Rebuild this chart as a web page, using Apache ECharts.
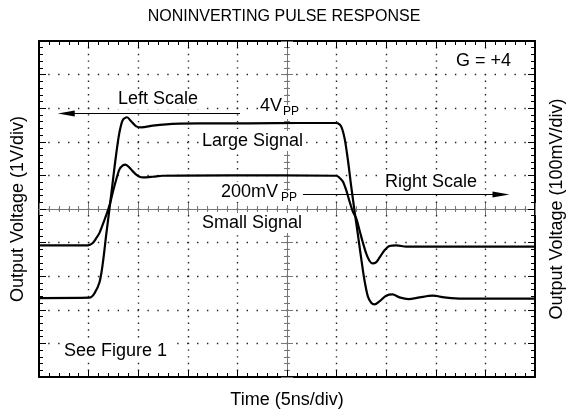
<!DOCTYPE html>
<html>
<head>
<meta charset="utf-8">
<script src="https://cdn.jsdelivr.net/npm/echarts@6/dist/echarts.min.js"></script>
<style>
html, body { margin: 0; padding: 0; background: #fff; }
#pulse_response { width: 568px; height: 414px; }
</style>
</head>
<body>
<div id="pulse_response"></div>
<script>
// time in ns (5ns/div); large signal in V (left scale), small signal in mV (right scale)
var large_t = [0, 5.09, 5.59, 6.10, 6.43, 6.77, 7.11, 7.44, 7.78, 8.11, 8.45, 8.87, 9.29, 9.80, 10.30, 11.47, 12.82, 14.16, 16.18, 21.22,
  26.26, 29.89, 30.12, 30.46, 30.80, 31.13, 31.47, 31.80, 32.14, 32.48, 32.81, 33.15, 33.49, 33.82, 34.32, 35.00, 35.64, 36.34, 37.25, 38.36,
  39.67, 41.08, 42.69, 50];
var large_v = [-2.65, -2.64, -2.51, -2.18, -1.62, -0.78, 0.02, 0.82, 1.63, 2.28, 2.65, 2.73, 2.61, 2.46, 2.43, 2.48, 2.52, 2.54, 2.55, 2.55,
  2.56, 2.56, 2.55, 2.46, 2.11, 1.48, 0.68, -0.04, -0.75, -1.47, -2.12, -2.60, -2.79, -2.84, -2.75, -2.58, -2.54, -2.63, -2.68, -2.63,
  -2.58, -2.64, -2.67, -2.67];
var small_t = [0, 4.92, 5.39, 5.77, 6.10, 6.43, 6.77, 7.11, 7.44, 7.78, 8.11, 8.45, 8.72, 9.12, 9.46, 9.80, 10.13, 10.46, 11.47, 12.45,
  19.20, 29.96, 30.29, 30.63, 30.97, 31.30, 31.63, 31.98, 32.31, 32.64, 32.98, 33.31, 33.64, 33.97, 34.32, 34.83, 35.33, 36.04, 37.02, 40.37,
  50];
var small_mv = [-108, -108, -102, -87, -71, -46, -19, 11, 50, 87, 118, 130, 132, 123, 112, 102, 96, 94, 96, 99,
  100, 99, 93, 82, 56, 23, -7, -28, -63, -99, -132, -154, -162, -159, -145, -123, -110, -108, -112, -112,
  -112];
// annotation arrows, in axis units
var left_arrow = [[20.26, 2.84], [2.75, 2.84]];
var right_arrow = [[26.61, 43], [46.57, 43]];

var FONT = 'Liberation Sans, Arial, Helvetica, sans-serif';

graph_pulse('pulse_response');

function pairs(xs, ys) {
  var out = [];
  for (var i = 0; i < xs.length; i++) out.push([xs[i], ys[i]]);
  return out;
}

function border_axis(extra) {
  var ax = {
    axisLine: {show: true, onZero: false, lineStyle: {color: '#000', width: 2}},
    axisTick: {show: true, inside: true, length: 7, lineStyle: {color: '#000', width: 1}},
    minorTick: {show: true, splitNumber: 5, length: 4, lineStyle: {color: '#000', width: 1}},
    axisLabel: {show: false},
    splitLine: {show: false}
  };
  return Object.assign(ax, extra);
}

function center_axis(extra, inside) {
  var ax = {
    axisLine: {show: true, onZero: false, lineStyle: {color: '#777', width: 1}},
    axisTick: {show: true, inside: inside, length: 6, lineStyle: {color: '#777', width: 1}},
    minorTick: {show: true, splitNumber: 5, length: 3, lineStyle: {color: '#777', width: 1}},
    axisLabel: {show: false},
    splitLine: {show: false}
  };
  return Object.assign(ax, extra);
}

function note(text, x, y, size) {
  return {
    type: 'text', x: x, y: y, z: 100,
    style: {text: text, font: size + 'px ' + FONT, fill: '#000', verticalAlign: 'middle',
      backgroundColor: '#fff', padding: [1, 2]}
  };
}

function graph_pulse(id) {
  var myChart = echarts.init(document.getElementById(id));
  var name_style = {fontFamily: FONT, fontSize: 18, color: '#000'};
  var x_range = {type: 'value', min: 0, max: 50, interval: 5};
  var v_range = {type: 'value', min: -5, max: 5, interval: 1};
  var mv_range = {type: 'value', min: -500, max: 500, interval: 100};

  var option = {
    animation: false,
    title: {
      text: 'NONINVERTING PULSE RESPONSE',
      left: 'center', top: 4,
      textStyle: {fontFamily: FONT, fontSize: 16, fontWeight: 'normal', color: '#000'}
    },
    grid: {left: 39, top: 41, width: 496, height: 336, containLabel: false, outerBoundsMode: 'none'},
    xAxis: [
      border_axis(Object.assign({
        position: 'bottom',
        name: 'Time (5ns/div)', nameLocation: 'middle', nameGap: 14, nameTextStyle: name_style,
        splitLine: {show: true, showMinLine: false, showMaxLine: false,
          lineStyle: {color: '#222', width: 1.4, type: [1.4, 5.32], dashOffset: 0.7, cap: 'butt'}}
      }, x_range)),
      border_axis(Object.assign({position: 'top'}, x_range)),
      center_axis(Object.assign({position: 'bottom', offset: -168}, x_range), true),
      center_axis(Object.assign({position: 'bottom', offset: -168}, x_range), false)
    ],
    yAxis: [
      border_axis(Object.assign({
        position: 'left',
        name: 'Output Voltage (1V/div)', nameLocation: 'middle', nameRotate: 90, nameGap: 12, nameTextStyle: name_style,
        splitLine: {show: true, showMinLine: false, showMaxLine: false,
          lineStyle: {color: '#222', width: 1.4, type: [1.4, 8.52], dashOffset: 0.7, cap: 'butt'}}
      }, v_range)),
      border_axis(Object.assign({
        position: 'right',
        name: 'Output Voltage (100mV/div)', nameLocation: 'middle', nameRotate: 90, nameGap: 13, nameTextStyle: name_style
      }, mv_range)),
      center_axis(Object.assign({position: 'left', offset: -248}, v_range), true),
      center_axis(Object.assign({position: 'left', offset: -248}, v_range), false)
    ],
    series: [
      {
        name: 'Large Signal', type: 'line', xAxisIndex: 0, yAxisIndex: 0,
        data: pairs(large_t, large_v),
        showSymbol: false, smooth: 0.3, silent: true, z: 5,
        lineStyle: {color: '#000', width: 2.2},
        markLine: {
          silent: true, animation: false, label: {show: false},
          lineStyle: {color: '#000', width: 1.2, type: 'solid'},
          data: [[
            {coord: left_arrow[0], symbol: 'none'},
            {coord: left_arrow[1], symbol: 'triangle', symbolSize: [6, 17]}
          ]]
        }
      },
      {
        name: 'Small Signal', type: 'line', xAxisIndex: 0, yAxisIndex: 1,
        data: pairs(small_t, small_mv),
        showSymbol: false, smooth: 0.3, silent: true, z: 5,
        lineStyle: {color: '#000', width: 2.2},
        markLine: {
          silent: true, animation: false, label: {show: false},
          lineStyle: {color: '#000', width: 1.2, type: 'solid'},
          data: [[
            {coord: right_arrow[0], symbol: 'none'},
            {coord: right_arrow[1], symbol: 'triangle', symbolSize: [6, 17]}
          ]]
        }
      }
    ],
    graphic: [
      note('G = +4', 454, 61, 18),
      note('Left Scale', 116, 99, 18),
      note('4V', 258, 106, 18),
      note('PP', 281, 112, 12),
      note('Large Signal', 200, 141, 18),
      note('200mV', 219, 192, 18),
      note('PP', 279, 198, 12),
      note('Right Scale', 383, 182, 18),
      note('Small Signal', 200, 223, 18),
      note('See Figure 1', 62, 351, 18)
    ]
  };
  myChart.setOption(option);
}
</script>
</body>
</html>
